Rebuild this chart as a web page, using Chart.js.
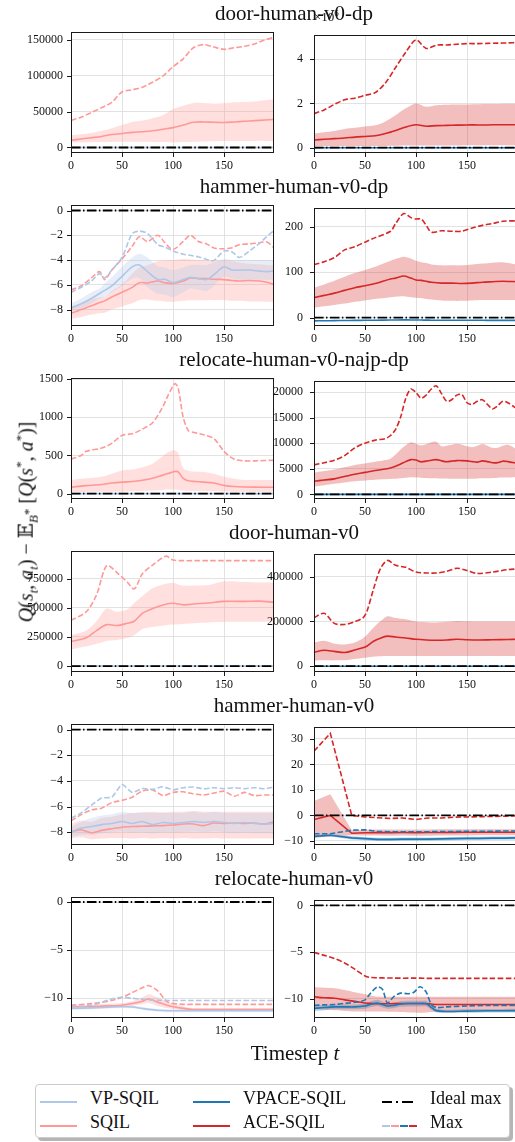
<!DOCTYPE html>
<html>
<head>
<meta charset="utf-8">
<script src="https://cdn.jsdelivr.net/npm/chart.js@4.4.1/dist/chart.umd.min.js"></script>
<style>
html, body { margin: 0; padding: 0; background: #fff; overflow: hidden; }
#fig { position: relative; width: 515px; height: 1142px; overflow: hidden;
       font-family: 'Liberation Serif', 'DejaVu Serif', serif; color: #111; }
#fig canvas { position: absolute; }
.title { position: absolute; left: 294px; transform: translate(-50%, -50%); font-size: 21px; white-space: nowrap; }
.ylab { position: absolute; left: 27px; top: 522px; transform: translate(-50%, -50%) rotate(-90deg);
        font-size: 20px; white-space: nowrap; }
.ylab sub, .ylab sup { font-size: 13px; }
.xlab { position: absolute; left: 295px; top: 1053px; transform: translate(-50%, -50%); font-size: 21px; white-space: nowrap; }
.offset { position: absolute; left: 314px; top: 8px; font-size: 13px; }
.legend { position: absolute; left: 35px; top: 1084px; width: 473px; height: 52px; border: 1px solid #ccc;
          border-radius: 4px; background: #fff; box-shadow: 3px 3px 0 #b5b5b5; }
.item { position: absolute; font-size: 18px; white-space: nowrap; transform: translateY(-50%); }
.handle { position: absolute; }
</style>
</head>
<body>
<div id="fig"></div>
<script>
// timesteps per panel and values

// door-human-v0-dp
const tDoorDp = [0, 10, 20, 30, 40, 50, 60, 70, 80, 90, 100, 110, 120, 130, 140, 150, 160, 170, 180, 190, 199];
const doorDpSqilMax = [37800, 42200, 48800, 55400, 63000, 77400, 80500, 84000, 91000, 99400, 112600, 123600, 139000, 143400, 140000, 136800, 139000, 141000, 144300, 150000, 153500];
const doorDpSqilMean = [10100, 11900, 13600, 15400, 18000, 19400, 21100, 22000, 23300, 25500, 27700, 31200, 35200, 35600, 35200, 34800, 35600, 36500, 37400, 38300, 39200];
const doorDpSqilHi = [17200, 18500, 20200, 23000, 26800, 31200, 35600, 37500, 40900, 45000, 53200, 58000, 62000, 62000, 61100, 61500, 62900, 63500, 64200, 66000, 67300];
const doorDpSqilLo = [7000, 7200, 7400, 7600, 7800, 8000, 8000, 8000, 7800, 7500, 7000, 7500, 8000, 8500, 8800, 9000, 9000, 9100, 9200, 9200, 9200];
// right panel, in units of 1e6
const doorDpAceMax = [1.54, 1.71, 1.96, 2.17, 2.24, 2.37, 2.49, 2.93, 3.63, 4.32, 4.88, 4.49, 4.64, 4.65, 4.68, 4.71, 4.71, 4.72, 4.73, 4.74, 4.76];
const doorDpAceMean = [0.35, 0.38, 0.41, 0.44, 0.48, 0.51, 0.54, 0.64, 0.78, 0.94, 1.04, 0.97, 1.0, 1.01, 1.02, 1.03, 1.03, 1.03, 1.04, 1.04, 1.04];
const doorDpAceHi = [0.64, 0.7, 0.76, 0.85, 0.9, 0.96, 1.01, 1.19, 1.47, 1.78, 2.0, 1.85, 1.92, 1.94, 1.95, 1.96, 1.97, 1.98, 1.98, 1.99, 1.99];
const doorDpAceLo = [0.05, 0.06, 0.06, 0.07, 0.07, 0.08, 0.08, 0.08, 0.09, 0.1, 0.1, 0.1, 0.1, 0.1, 0.1, 0.11, 0.11, 0.11, 0.11, 0.11, 0.11];

// hammer-human-v0-dp
const tHammerDpL = [0, 10, 20, 28, 33, 40, 50, 60, 67, 75, 85, 92, 100, 110, 117, 125, 133, 140, 150, 158, 165, 175, 185, 192, 199];
const hammerDpSqilMax = [-6.42, -6.09, -5.45, -4.94, -5.58, -4.81, -3.91, -2.89, -2.12, -2.5, -2.0, -2.6, -3.15, -2.5, -2.0, -2.5, -2.7, -3.02, -3.09, -3.0, -2.76, -2.7, -2.6, -2.55, -3.02];
const hammerDpVpMax = [-6.6, -6.2, -5.7, -5.1, -5.45, -4.81, -3.79, -1.87, -1.66, -1.85, -2.75, -2.95, -3.27, -3.53, -3.62, -3.75, -3.95, -4.04, -3.27, -3.35, -3.79, -3.27, -2.63, -2.1, -1.61];
const hammerDpVpMean = [-7.88, -7.54, -7.11, -6.7, -6.45, -6.09, -5.32, -4.55, -4.4, -4.94, -5.58, -5.55, -5.83, -5.58, -5.4, -5.5, -5.58, -5.19, -4.55, -4.81, -4.81, -4.81, -4.9, -4.94, -4.88];
const hammerDpVpHi = [-7.49, -7.1, -6.6, -6.3, -5.9, -5.4, -4.55, -3.79, -3.5, -3.8, -4.5, -4.6, -4.81, -4.6, -4.4, -4.4, -4.4, -4.2, -3.91, -4.0, -4.0, -4.0, -4.0, -4.0, -4.04];
const hammerDpVpLo = [-8.13, -7.9, -7.5, -7.1, -6.98, -6.6, -6.09, -5.5, -5.45, -6.2, -6.73, -6.8, -6.98, -6.6, -6.3, -6.4, -6.5, -6.1, -5.32, -5.5, -5.6, -5.6, -5.6, -5.6, -5.58];
const hammerDpSqilMean = [-8.31, -8.0, -7.7, -7.44, -7.3, -6.98, -6.6, -6.21, -5.83, -5.85, -5.7, -5.83, -5.9, -5.7, -5.45, -5.5, -5.5, -5.55, -5.58, -5.65, -5.7, -5.65, -5.7, -5.8, -5.96];
const hammerDpSqilHi = [-7.75, -7.5, -7.2, -7.0, -6.98, -6.5, -5.96, -5.1, -4.6, -4.42, -4.1, -4.04, -4.0, -3.91, -3.95, -4.0, -4.04, -4.04, -4.04, -4.1, -4.2, -4.3, -4.35, -4.4, -4.42];
const hammerDpSqilLo = [-8.77, -8.6, -8.4, -8.3, -8.26, -8.0, -7.75, -7.5, -7.24, -7.2, -7.3, -7.35, -7.37, -7.3, -7.25, -7.25, -7.24, -7.24, -7.24, -7.3, -7.3, -7.35, -7.35, -7.37, -7.37];
const tHammerDpR = [0, 10, 20, 30, 40, 50, 60, 75, 80, 88, 95, 100, 105, 110, 115, 125, 135, 145, 155, 165, 175, 185, 199];
const hammerDpAceMax = [116.6, 123, 132, 149, 156, 166, 176, 190, 207, 229, 220, 217, 217, 203, 188, 191, 190, 190, 197, 203, 207, 212, 213];
const hammerDpAceMean = [44, 49, 54, 60, 66, 70, 75, 85, 87, 91.5, 87, 83, 82, 80, 78, 76, 76, 75, 76, 78, 79, 80, 79];
const hammerDpAceHi = [66, 73, 81, 90, 98, 105, 112, 125, 129, 134, 130, 125, 122, 120, 117, 115, 115, 115, 117, 119, 121, 122, 117];
const hammerDpAceLo = [22, 25, 28, 31, 35, 38, 41, 45, 46, 47, 45, 44, 43, 41, 40, 38, 37, 37, 38, 39, 39, 39, 39];
const hammerDpVpaceMean = [-7, -6.8, -6.5, -6.2, -6, -5.8, -5.6, -5.2, -5, -4.8, -5, -5, -5.2, -5.4, -5.5, -5.6, -5.8, -5.8, -5.8, -5.8, -5.9, -6, -6];

// relocate-human-v0-najp-dp
const tRelocDpL = [0, 10, 15, 30, 40, 50, 60, 70, 80, 90, 95, 100, 102, 105, 110, 115, 120, 130, 140, 150, 160, 170, 180, 199];
const relocDpSqilMax = [450, 500, 554, 596, 658, 763, 783, 846, 929, 1137, 1283, 1408, 1442, 1387, 1000, 825, 804, 771, 721, 554, 450, 429, 429, 437];
const relocDpSqilMean = [83, 98, 104, 120, 138, 150, 158, 175, 200, 242, 262, 283, 290, 285, 200, 167, 160, 150, 138, 108, 92, 86, 84, 83];
const relocDpSqilHi = [179, 195, 200, 221, 260, 304, 315, 346, 390, 492, 540, 567, 565, 533, 333, 300, 290, 283, 260, 221, 195, 179, 179, 179];
const relocDpSqilLo = [21, 22, 22, 23, 24, 25, 30, 35, 40, 48, 52, 54, 54, 50, 40, 36, 34, 33, 30, 27, 25, 25, 25, 25];
const tRelocDpR = [0, 10, 20, 30, 40, 50, 60, 70, 75, 80, 85, 90, 95, 100, 105, 110, 115, 120, 125, 130, 135, 140, 145, 150, 155, 160, 165, 170, 175, 180, 185, 190, 199];
const relocDpAceMax = [5760, 6180, 6670, 7580, 9090, 10000, 10600, 10900, 11500, 12700, 15150, 18800, 20600, 19900, 18800, 19400, 20600, 21200, 19700, 18200, 18500, 19400, 19500, 17900, 17600, 18200, 18500, 17600, 16700, 17300, 18200, 17900, 16700];
const relocDpAceMean = [2550, 2800, 3030, 3500, 3940, 4300, 4670, 4950, 5150, 5500, 5940, 6400, 6790, 6700, 6360, 6500, 6670, 6790, 6550, 6360, 6500, 6600, 6600, 6540, 6400, 6300, 6540, 6400, 6180, 6200, 6480, 6400, 6060];
const relocDpAceHi = [4240, 4550, 4850, 5300, 5760, 6050, 6360, 6700, 6970, 7800, 8790, 9600, 10180, 9900, 9570, 9800, 10180, 10300, 9390, 9500, 9700, 9880, 9700, 9400, 9210, 9500, 9820, 9500, 9090, 9090, 9500, 9700, 8790];
const relocDpAceLo = [1520, 1800, 2050, 2300, 2550, 2700, 2850, 2950, 3000, 3030, 3150, 3250, 3330, 3300, 3250, 3200, 3150, 3150, 3100, 3100, 3050, 3050, 3030, 3030, 3050, 3100, 3150, 3150, 3200, 3250, 3300, 3300, 3330];

// door-human-v0
const tDoorL = [0, 15, 25, 35, 45, 55, 62, 70, 80, 93, 100, 110, 120, 135, 150, 170, 185, 199];
const doorSqilMax = [392000, 465000, 610000, 860000, 801000, 720000, 661000, 790000, 865000, 941000, 908000, 903000, 903000, 903000, 903000, 903000, 903000, 903000];
const doorSqilMean = [210000, 242000, 304000, 355000, 347000, 366000, 384000, 452000, 492000, 530000, 538000, 524000, 532000, 540000, 554000, 554000, 556000, 546000];
const doorSqilHi = [263000, 304000, 384000, 492000, 465000, 484000, 540000, 600000, 667000, 705000, 712000, 688000, 690000, 694000, 726000, 720000, 716000, 715000];
const doorSqilLo = [142000, 169000, 190000, 215000, 223000, 240000, 263000, 317000, 335000, 350000, 355000, 360000, 366000, 372000, 379000, 379000, 379000, 379000];
const tDoorR = [0, 10, 20, 30, 40, 48, 52, 58, 65, 72, 80, 90, 100, 110, 120, 130, 140, 150, 160, 175, 190, 199];
const doorAceMax = [216000, 236000, 191000, 186000, 199000, 216000, 246000, 339000, 434000, 472000, 450000, 441000, 420000, 416000, 416000, 423000, 437000, 427000, 414000, 420000, 431000, 434000];
const doorAceMean = [63000, 71000, 66000, 61000, 72000, 82000, 90000, 110000, 125000, 134000, 130000, 126000, 120000, 117000, 116000, 117000, 120000, 118000, 117000, 118000, 119000, 120000];
const doorAceHi = [106000, 113000, 100000, 97000, 106000, 125000, 140000, 170000, 200000, 223000, 215000, 209000, 199000, 196000, 195000, 198000, 202000, 200000, 199000, 199000, 199000, 199000];
const doorAceLo = [25000, 26000, 26000, 27000, 32000, 37000, 39000, 42000, 44000, 45000, 45000, 45000, 45000, 45000, 45000, 45000, 45000, 45000, 45000, 45000, 45000, 45000];

// hammer-human-v0
const tHammerL = [0, 10, 20, 30, 40, 50, 60, 70, 80, 90, 100, 110, 120, 130, 140, 150, 160, 170, 180, 190, 199];
const hammerVpMax = [-6.92, -6.5, -5.89, -5.34, -5.27, -4.29, -4.9, -4.6, -4.66, -4.46, -4.7, -4.53, -4.48, -4.61, -4.53, -4.61, -4.53, -4.61, -4.53, -4.61, -4.48];
const hammerSqilMax = [-7.12, -6.63, -6.26, -6.13, -5.69, -5.52, -5.27, -4.78, -4.7, -5.15, -4.9, -4.85, -5.02, -5.1, -4.95, -4.8, -5.2, -4.9, -5.15, -5.1, -5.1];
const hammerVpMean = [-7.98, -7.68, -7.56, -7.41, -7.32, -7.17, -7.32, -7.17, -7.41, -7.24, -7.32, -7.24, -7.17, -7.24, -7.17, -7.24, -7.32, -7.24, -7.32, -7.36, -7.32];
const hammerVpHi = [-7.6, -7.2, -6.9, -6.7, -6.6, -6.4, -6.5, -6.4, -6.5, -6.5, -6.5, -6.5, -6.4, -6.5, -6.4, -6.5, -6.5, -6.5, -6.5, -6.5, -6.5];
const hammerVpLo = [-8.35, -8.2, -8.2, -8.1, -8.0, -7.95, -8.05, -8.0, -8.1, -8.0, -8.05, -8.0, -7.95, -8.0, -7.95, -8.0, -8.1, -8.05, -8.1, -8.1, -8.1];
const hammerSqilMean = [-7.98, -7.81, -8.05, -7.86, -7.73, -7.61, -7.56, -7.54, -7.51, -7.49, -7.44, -7.36, -7.36, -7.49, -7.29, -7.32, -7.29, -7.32, -7.29, -7.36, -7.19];
const hammerSqilHi = [-7.36, -7.1, -7.2, -6.9, -6.8, -6.6, -6.5, -6.5, -6.4, -6.45, -6.4, -6.4, -6.35, -6.4, -6.4, -6.4, -6.4, -6.4, -6.4, -6.4, -6.4];
const hammerSqilLo = [-8.47, -8.4, -8.55, -8.5, -8.45, -8.45, -8.5, -8.45, -8.5, -8.45, -8.5, -8.45, -8.5, -8.5, -8.45, -8.5, -8.5, -8.5, -8.5, -8.5, -8.5];
const tHammerR = [0, 16, 37, 50, 62, 75, 87, 100, 112, 125, 137, 150, 162, 175, 187, 199];
const hammerAceMax = [25.2, 32.2, 0, -0.6, -0.9, -1.2, -1.0, -1.6, -1.0, -1.0, -0.7, -0.6, -0.5, -0.4, -0.3, -0.1];
const hammerAceMean = [-1.6, 0, -7.0, -6.8, -6.75, -6.75, -6.7, -6.75, -6.7, -6.7, -6.65, -6.6, -6.6, -6.6, -6.6, -6.6];
const hammerAceHi = [5.7, 8.3, -5.8, -5.6, -5.5, -5.5, -5.5, -5.5, -5.5, -5.4, -5.4, -5.4, -5.4, -5.4, -5.4, -5.4];
const hammerAceLo = [-8.8, -8.2, -7.8, -7.9, -7.9, -8.0, -7.9, -8.0, -8.0, -7.9, -7.9, -7.9, -7.8, -7.8, -7.8, -7.8];
const hammerVpaceMax = [-7.2, -7.2, -5.8, -5.6, -6.3, -6.4, -6.4, -6.4, -6.4, -6.3, -6.3, -6.2, -6.2, -6.2, -6.1, -6.1];
const hammerVpaceMean = [-8.2, -7.8, -8.8, -9.1, -9.4, -9.4, -9.3, -9.3, -9.3, -9.2, -9.1, -9.0, -9.0, -8.9, -8.9, -8.8];
const hammerVpaceHi = [-7.7, -7.3, -8.2, -8.5, -8.8, -8.8, -8.7, -8.7, -8.7, -8.6, -8.5, -8.4, -8.4, -8.3, -8.3, -8.2];
const hammerVpaceLo = [-8.7, -8.3, -9.4, -9.7, -10.0, -10.0, -9.9, -9.9, -9.9, -9.8, -9.7, -9.6, -9.6, -9.5, -9.5, -9.4];

// relocate-human-v0
const tRelocL = [0, 20, 40, 50, 60, 70, 76, 85, 95, 110, 120, 150, 199];
const relocSqilMax = [-10.73, -10.56, -10.23, -9.9, -9.41, -8.91, -8.68, -9.24, -10.4, -10.63, -10.63, -10.63, -10.63];
const relocVpMax = [-10.89, -10.73, -10.07, -9.9, -10.0, -10.1, -10.17, -10.2, -10.23, -10.23, -10.23, -10.23, -10.23];
const relocSqilMean = [-10.89, -10.86, -10.78, -10.73, -10.55, -10.3, -10.07, -10.4, -10.75, -11.05, -11.16, -11.16, -11.16];
const relocSqilHi = [-10.7, -10.65, -10.55, -10.5, -10.3, -9.9, -9.57, -9.9, -10.4, -10.85, -11.0, -11.0, -11.0];
const relocSqilLo = [-11.1, -11.05, -11.0, -10.95, -10.8, -10.6, -10.5, -10.8, -11.05, -11.25, -11.3, -11.3, -11.3];
const relocVpMean = [-11.06, -11.0, -10.9, -10.85, -10.9, -11.06, -11.15, -11.25, -11.29, -11.29, -11.29, -11.29, -11.29];
const relocVpHi = [-10.9, -10.85, -10.75, -10.7, -10.75, -10.9, -11.0, -11.1, -11.15, -11.15, -11.15, -11.15, -11.15];
const relocVpLo = [-11.2, -11.15, -11.05, -11.0, -11.05, -11.2, -11.3, -11.4, -11.45, -11.45, -11.45, -11.45, -11.45];
const tRelocR = [0, 10, 20, 30, 40, 50, 55, 62, 67, 72, 78, 85, 92, 98, 104, 110, 115, 120, 130, 150, 170, 199];
const relocAceMax = [-5.02, -5.34, -5.67, -6.16, -6.82, -7.54, -7.7, -7.74, -7.75, -7.76, -7.77, -7.78, -7.78, -7.78, -7.78, -7.8, -7.8, -7.8, -7.8, -7.8, -7.8, -7.8];
const relocAceMean = [-9.77, -9.87, -9.93, -10.1, -10.26, -10.43, -10.48, -10.52, -10.52, -10.52, -10.5, -10.5, -10.49, -10.49, -10.49, -10.52, -10.55, -10.59, -10.59, -10.59, -10.59, -10.59];
const relocAceHi = [-8.72, -8.8, -8.85, -9.05, -9.28, -9.5, -9.6, -9.77, -9.77, -9.77, -9.77, -9.77, -9.77, -9.77, -9.77, -9.77, -9.77, -9.77, -9.77, -9.77, -9.77, -9.77];
const relocAceLo = [-11.08, -11.15, -11.2, -11.28, -11.34, -11.34, -11.34, -11.34, -11.34, -11.36, -11.38, -11.4, -11.42, -11.45, -11.48, -11.45, -11.4, -11.36, -11.34, -11.34, -11.34, -11.34];
const relocVpaceMax = [-10.69, -10.64, -10.59, -10.48, -10.36, -10.1, -9.44, -8.72, -8.95, -10.43, -9.77, -9.38, -9.44, -9.28, -8.69, -9.28, -10.59, -10.92, -10.85, -10.75, -10.7, -10.69];
const relocVpaceMean = [-11.02, -10.92, -10.85, -10.85, -10.85, -10.75, -10.6, -10.43, -10.6, -10.75, -10.7, -10.55, -10.49, -10.49, -10.49, -10.49, -10.9, -11.25, -11.34, -11.3, -11.27, -11.25];
const relocVpaceHi = [-10.75, -10.65, -10.6, -10.6, -10.6, -10.45, -10.3, -10.1, -10.3, -10.45, -10.4, -10.25, -10.2, -10.2, -10.2, -10.2, -10.65, -11.05, -11.15, -11.1, -11.08, -11.05];
const relocVpaceLo = [-11.3, -11.2, -11.1, -11.1, -11.1, -11.05, -10.9, -10.75, -10.9, -11.05, -11.0, -10.85, -10.8, -10.8, -10.8, -10.8, -11.15, -11.45, -11.5, -11.48, -11.45, -11.45];

// series that sit on zero at these scales, and the ideal max
const tFlat = [0, 199];
const nearZero = [0, 0];
const idealMax = [0, 0];

// tick positions
const xTicks = [0, 50, 100, 150];
const yTicks = [
    [[0, 50000, 100000, 150000], [0, 2, 4]],
    [[-8, -6, -4, -2, 0], [0, 100, 200]],
    [[0, 500, 1000, 1500], [0, 5000, 10000, 15000, 20000]],
    [[0, 250000, 500000, 750000], [0, 200000, 400000]],
    [[-8, -6, -4, -2, 0], [-10, 0, 10, 20, 30]],
    [[-10, -5, 0], [-10, -5, 0]]
];

const titles = ['door-human-v0-dp', 'hammer-human-v0-dp', 'relocate-human-v0-najp-dp',
                'door-human-v0', 'hammer-human-v0', 'relocate-human-v0'];

const COL = { vp: '#aec7e8', sqil: '#ff9896', vpace: '#1f77b4', ace: '#d62728' };
const ROW_TOP = [25, 198, 371, 544, 717, 890];
const PLOT_H = 128;
const SERIF = "'Liberation Serif', 'DejaVu Serif', serif";

Chart.defaults.font.family = SERIF;
Chart.defaults.color = '#111';
Chart.defaults.animation = false;

const fig = document.getElementById('fig');

function alpha(hex, a) {
    const n = parseInt(hex.slice(1), 16);
    return `rgba(${n >> 16}, ${(n >> 8) & 255}, ${n & 255}, ${a})`;
}

function fmt(v) {
    const r = Math.round(v * 1000) / 1000;
    return (r < 0 ? '\u2212' : '') + Math.abs(r);
}

// black frame and outward tick marks, matplotlib style
const frameTicks = {
    id: 'frameTicks',
    afterDraw(chart) {
        const { ctx, chartArea: a, scales } = chart;
        ctx.save();
        ctx.strokeStyle = '#1a1a1a';
        ctx.lineWidth = 1;
        ctx.strokeRect(Math.round(a.left) + 0.5, Math.round(a.top) + 0.5,
                       Math.round(a.right - a.left) - 1, Math.round(a.bottom - a.top) - 1);
        ctx.beginPath();
        scales.x.ticks.forEach((t, i) => {
            const px = Math.round(scales.x.getPixelForTick(i)) + 0.5;
            ctx.moveTo(px, a.bottom); ctx.lineTo(px, a.bottom + 4);
        });
        scales.y.ticks.forEach((t, i) => {
            const py = Math.round(scales.y.getPixelForTick(i)) + 0.5;
            ctx.moveTo(a.left, py); ctx.lineTo(a.left - 4, py);
        });
        ctx.stroke();
        ctx.restore();
    }
};

function panel(row, col, t, series, yMin, yMax, tension) {
    const cv = document.createElement('canvas');
    cv.width = 280;
    cv.height = 8 + PLOT_H + 24;
    cv.style.left = (col ? 240 : 0) + 'px';
    cv.style.top = (ROW_TOP[row] - 8) + 'px';
    fig.appendChild(cv);

    const datasets = [];
    series.forEach(s => {
        const xs = s.t || t;
        const pts = arr => xs.map((x, i) => ({ x: x, y: arr[i] }));
        const base = { pointRadius: 0, tension: tension, fill: false };
        if (s.lo) {
            datasets.push({ ...base, data: pts(s.lo), borderWidth: 0, order: 4 });
            datasets.push({ ...base, data: pts(s.hi), borderWidth: 0, order: 4,
                            fill: '-1', backgroundColor: alpha(COL[s.key], 0.3) });
        }
        if (s.mean) datasets.push({ ...base, data: pts(s.mean), borderColor: COL[s.key], borderWidth: 1.6, order: 2 });
        if (s.max) datasets.push({ ...base, data: pts(s.max), borderColor: COL[s.key], borderWidth: 1.6,
                                   borderDash: [5.5, 2.4], order: 1 });
    });
    datasets.push({ data: tFlat.map((x, i) => ({ x: x, y: idealMax[i] })), borderColor: '#000',
                    borderWidth: 1.8, borderDash: [9.6, 2.4, 1.5, 2.4], pointRadius: 0, fill: false, order: 0 });

    const grid = { color: '#dadada', lineWidth: 0.8, drawTicks: false };
    const yt = yTicks[row][col];
    new Chart(cv, {
        type: 'line',
        data: { datasets },
        plugins: [frameTicks],
        options: {
            responsive: false,
            animation: false,
            layout: { padding: { top: 8, right: col ? 3 : 6, left: 0, bottom: 0 } },
            plugins: { legend: { display: false }, tooltip: { enabled: false } },
            scales: {
                x: {
                    type: 'linear', min: 0, max: 199,
                    afterFit: s => { s.height = 24; },
                    afterBuildTicks: s => { s.ticks = xTicks.map(v => ({ value: v })); },
                    ticks: { autoSkip: false, maxRotation: 0, padding: 6, callback: fmt, font: { size: 12 } },
                    grid: grid, border: { display: false }
                },
                y: {
                    min: yMin, max: yMax,
                    afterFit: s => { s.width = col ? 74 : 71; },
                    afterBuildTicks: s => { s.ticks = yt.map(v => ({ value: v })); },
                    ticks: { autoSkip: false, padding: col ? 11 : 8, callback: fmt, font: { size: 12 } },
                    grid: grid, border: { display: false }
                }
            }
        }
    });
}

// row 1: door-human-v0-dp
panel(0, 0, tDoorDp, [
    { key: 'vp', t: tFlat, mean: nearZero },
    { key: 'sqil', mean: doorDpSqilMean, lo: doorDpSqilLo, hi: doorDpSqilHi, max: doorDpSqilMax }
], -7700, 160700, 0.3);
panel(0, 1, tDoorDp, [
    { key: 'vpace', t: tFlat, mean: nearZero },
    { key: 'ace', mean: doorDpAceMean, lo: doorDpAceLo, hi: doorDpAceHi, max: doorDpAceMax }
], -0.24, 5.09, 0.3);

// row 2: hammer-human-v0-dp
panel(1, 0, tHammerDpL, [
    { key: 'vp', mean: hammerDpVpMean, lo: hammerDpVpLo, hi: hammerDpVpHi, max: hammerDpVpMax },
    { key: 'sqil', mean: hammerDpSqilMean, lo: hammerDpSqilLo, hi: hammerDpSqilHi, max: hammerDpSqilMax }
], -9.33, 0.43, 0.3);
panel(1, 1, tHammerDpR, [
    { key: 'vpace', mean: hammerDpVpaceMean },
    { key: 'ace', mean: hammerDpAceMean, lo: hammerDpAceLo, hi: hammerDpAceHi, max: hammerDpAceMax }
], -18.3, 240.7, 0.3);

// row 3: relocate-human-v0-najp-dp
panel(2, 0, tRelocDpL, [
    { key: 'vp', t: tFlat, mean: nearZero },
    { key: 'sqil', mean: relocDpSqilMean, lo: relocDpSqilLo, hi: relocDpSqilHi, max: relocDpSqilMax }
], -71, 1512, 0.3);
panel(2, 1, tRelocDpR, [
    { key: 'vpace', t: tFlat, mean: nearZero },
    { key: 'ace', mean: relocDpAceMean, lo: relocDpAceLo, hi: relocDpAceHi, max: relocDpAceMax }
], -909, 22120, 0.3);

// row 4: door-human-v0
panel(3, 0, tDoorL, [
    { key: 'vp', t: tFlat, mean: nearZero },
    { key: 'sqil', mean: doorSqilMean, lo: doorSqilLo, hi: doorSqilHi, max: doorSqilMax }
], -51000, 983900, 0.3);
panel(3, 1, tDoorR, [
    { key: 'vpace', t: tFlat, mean: nearZero },
    { key: 'ace', mean: doorAceMean, lo: doorAceLo, hi: doorAceHi, max: doorAceMax }
], -25900, 499700, 0.3);

// row 5: hammer-human-v0
panel(4, 0, tHammerL, [
    { key: 'vp', mean: hammerVpMean, lo: hammerVpLo, hi: hammerVpHi, max: hammerVpMax },
    { key: 'sqil', mean: hammerSqilMean, lo: hammerSqilLo, hi: hammerSqilHi, max: hammerSqilMax }
], -9.0, 0.42, 0.2);
panel(4, 1, tHammerR, [
    { key: 'vpace', mean: hammerVpaceMean, lo: hammerVpaceLo, hi: hammerVpaceHi, max: hammerVpaceMax },
    { key: 'ace', mean: hammerAceMean, lo: hammerAceLo, hi: hammerAceHi, max: hammerAceMax }
], -11.6, 34.6, 0);

// row 6: relocate-human-v0
panel(5, 0, tRelocL, [
    { key: 'vp', mean: relocVpMean, lo: relocVpLo, hi: relocVpHi, max: relocVpMax },
    { key: 'sqil', mean: relocSqilMean, lo: relocSqilLo, hi: relocSqilHi, max: relocSqilMax }
], -12.05, 0.5, 0.3);
panel(5, 1, tRelocR, [
    { key: 'vpace', mean: relocVpaceMean, lo: relocVpaceLo, hi: relocVpaceHi, max: relocVpaceMax },
    { key: 'ace', mean: relocAceMean, lo: relocAceLo, hi: relocAceHi, max: relocAceMax }
], -12.04, 0.56, 0.3);

// text: offset label, titles, axis labels
function addDiv(cls, html, style) {
    const d = document.createElement('div');
    d.className = cls;
    d.innerHTML = html;
    Object.assign(d.style, style || {});
    fig.appendChild(d);
    return d;
}
addDiv('offset', '\u00d710<sup style="font-size:9px">6</sup>');
titles.forEach((txt, i) => addDiv('title', txt, { top: (ROW_TOP[i] - 12) + 'px' }));
addDiv('ylab', '<i>Q</i>(<i>s<sub>t</sub></i>, <i>a<sub>t</sub></i>) \u2212 \ud835\udd3c<sub><i>B</i><sup>*</sup></sub> [<i>Q</i>(<i>s</i><sup>*</sup>, <i>a</i><sup>*</sup>)]');
addDiv('xlab', 'Timestep <i>t</i>');

// legend
addDiv('legend', '');
function seg(x1, x2, color, dash) {
    return `<line x1="${x1}" y1="5" x2="${x2}" y2="5" stroke="${color}" stroke-width="2"${dash ? ` stroke-dasharray="${dash}"` : ''}/>`;
}
function legendItem(hx, tx, y, label, svgInner) {
    addDiv('handle', `<svg width="40" height="10">${svgInner}</svg>`, { left: hx + 'px', top: (y - 5) + 'px' });
    addDiv('item', label, { left: tx + 'px', top: y + 'px' });
}
legendItem(40, 90, 1098, 'VP-SQIL', seg(0, 37, COL.vp));
legendItem(40, 90, 1122, 'SQIL', seg(0, 37, COL.sqil));
legendItem(193, 243, 1098, 'VPACE-SQIL', seg(0, 37, COL.vpace));
legendItem(193, 243, 1122, 'ACE-SQIL', seg(0, 37, COL.ace));
legendItem(382, 430, 1098, 'Ideal max', seg(0, 10, '#000') + seg(14, 16, '#000') + seg(20, 31, '#000'));
legendItem(382, 430, 1122, 'Max', seg(0, 8, COL.vp) + seg(9, 17, COL.sqil) + seg(18, 26, COL.vpace) + seg(27, 35, COL.ace));
</script>
</body>
</html>
